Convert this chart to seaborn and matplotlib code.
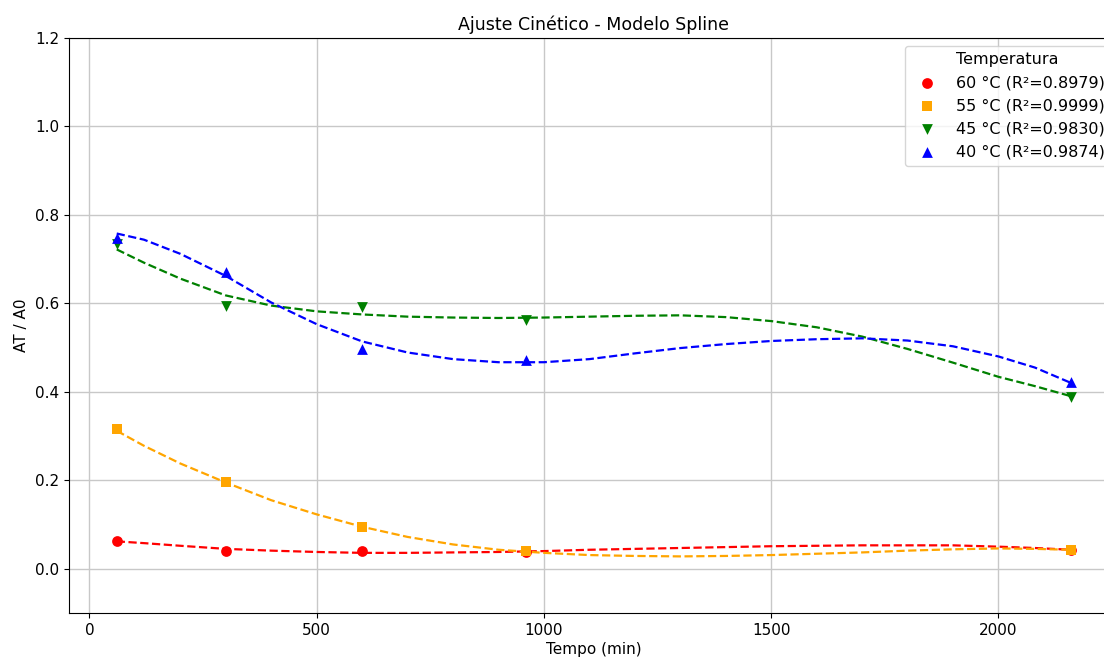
import numpy as np
import matplotlib
matplotlib.use("Agg")
import matplotlib.pyplot as plt
import seaborn as sns

# pontos experimentais
tempo = [60, 300, 600, 960, 2160]
at_60 = [0.063, 0.041, 0.040, 0.038, 0.043]
at_55 = [0.316, 0.197, 0.095, 0.041, 0.043]
at_45 = [0.735, 0.594, 0.592, 0.563, 0.389]
at_40 = [0.748, 0.671, 0.497, 0.472, 0.423]

# curvas spline
tempo_fit = [60, 120, 200, 300, 400, 500, 600, 700, 800, 900, 1000, 1100,
             1200, 1300, 1400, 1500, 1600, 1700, 1800, 1900, 2000, 2080, 2160]
fit_60 = [0.062, 0.058, 0.052, 0.045, 0.041, 0.038, 0.036, 0.036, 0.037, 0.038, 0.040, 0.043,
          0.045, 0.047, 0.049, 0.051, 0.052, 0.053, 0.053, 0.053, 0.050, 0.047, 0.043]
fit_55 = [0.312, 0.278, 0.238, 0.195, 0.155, 0.123, 0.095, 0.072, 0.055, 0.043, 0.036, 0.031,
          0.029, 0.028, 0.029, 0.031, 0.034, 0.037, 0.041, 0.044, 0.046, 0.045, 0.043]
fit_45 = [0.722, 0.692, 0.656, 0.618, 0.595, 0.582, 0.575, 0.570, 0.568, 0.567, 0.568, 0.570,
          0.572, 0.573, 0.569, 0.560, 0.546, 0.525, 0.497, 0.466, 0.434, 0.413, 0.390]
fit_40 = [0.758, 0.744, 0.712, 0.662, 0.602, 0.553, 0.514, 0.489, 0.474, 0.467, 0.467, 0.474,
          0.487, 0.499, 0.508, 0.515, 0.519, 0.521, 0.516, 0.503, 0.480, 0.455, 0.420]

rotulos = ["60 °C (R²=0.8979)", "55 °C (R²=0.9999)", "45 °C (R²=0.9830)", "40 °C (R²=0.9874)"]
cores = ["red", "orange", "green", "blue"]
marcadores = ["o", "s", "v", "^"]

sns.set_style("ticks", rc={"text.color": "black", "axes.labelcolor": "black",
                           "xtick.color": "black", "ytick.color": "black",
                           "axes.edgecolor": "black"})
plt.rcParams['font.family'] = ['DejaVu Sans']

fig = plt.figure(figsize=(11.04, 6.62), dpi=100)
ax = fig.add_axes([0.0625, 0.074, 0.951, 0.8686])

series = [(at_60, fit_60), (at_55, fit_55), (at_45, fit_45), (at_40, fit_40)]
for (pts, fit), lab, cor, mk in zip(series, rotulos, cores, marcadores):
    sns.scatterplot(x=tempo, y=pts, color=cor, marker=mk, s=60, edgecolor=cor,
                    linewidth=0, label=lab, ax=ax, zorder=3)
    sns.lineplot(x=tempo_fit, y=fit, color=cor, linestyle="--", linewidth=1.6,
                 legend=False, ax=ax, zorder=2)

ax.set_ylim(-0.1, 1.2)
ax.set_xlim(-45, 2265)
ax.set_yticks([0.0, 0.2, 0.4, 0.6, 0.8, 1.0, 1.2])
ax.set_xticks([0, 500, 1000, 1500, 2000])
ax.grid(True, color="#c8c8c8", linewidth=1)
ax.tick_params(labelsize=11)
ax.set_xlabel("Tempo (min)", fontsize=11, labelpad=3)
ax.set_ylabel("AT / A0", fontsize=11)
ax.set_title("Ajuste Cinético - Modelo Spline", fontsize=12.5)
ax.legend(title="Temperatura", loc="upper right", fontsize=11.5, title_fontsize=11.5)

fig.savefig("out.png", dpi=100)
